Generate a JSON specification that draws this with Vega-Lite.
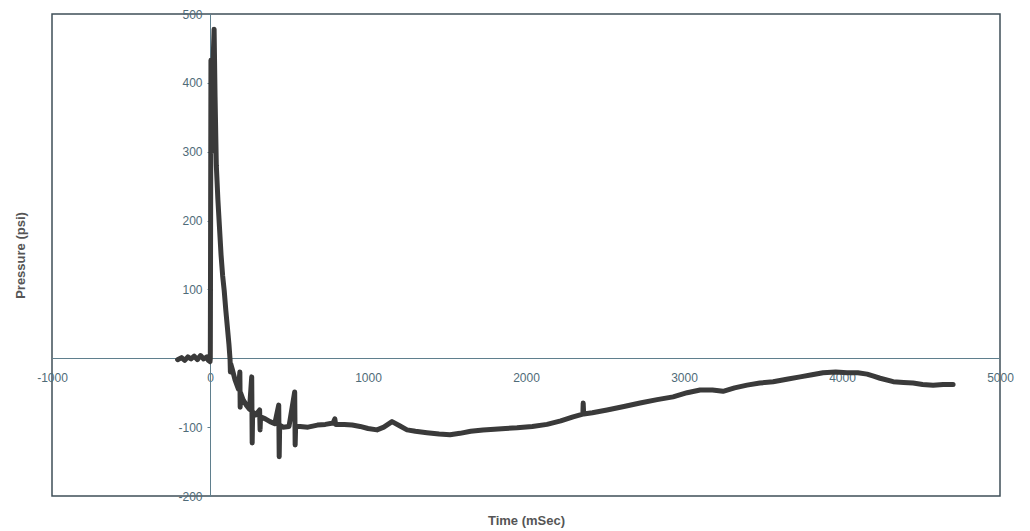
{
  "$schema": "https://vega.github.io/schema/vega-lite/v6.json",
  "width": 948,
  "height": 482,
  "autosize": {"type": "none"},
  "padding": {"left": 52, "top": 14, "right": 30, "bottom": 35},
  "background": "white",
  "config": {
    "view": {"stroke": "#3f4f58", "strokeWidth": 1.5},
    "font": "Liberation Sans"
  },
  "data": {
    "values": [
      {"t": -205, "p": -2}, {"t": -180, "p": 1}, {"t": -160, "p": -3}, {"t": -140, "p": 2},
      {"t": -120, "p": -1}, {"t": -100, "p": 3}, {"t": -80, "p": -2}, {"t": -60, "p": 4},
      {"t": -40, "p": -1}, {"t": -20, "p": 2}, {"t": -10, "p": -3}, {"t": 0, "p": -5},
      {"t": 2, "p": 0}, {"t": 3, "p": 100}, {"t": 6, "p": 433}, {"t": 10, "p": 300},
      {"t": 18, "p": 420}, {"t": 26, "p": 478}, {"t": 32, "p": 380}, {"t": 40, "p": 280},
      {"t": 50, "p": 230}, {"t": 60, "p": 190}, {"t": 70, "p": 150}, {"t": 80, "p": 120},
      {"t": 90, "p": 98}, {"t": 100, "p": 70}, {"t": 110, "p": 45}, {"t": 120, "p": 20},
      {"t": 127, "p": -2}, {"t": 129, "p": -20}, {"t": 131, "p": -8}, {"t": 140, "p": -15},
      {"t": 158, "p": -31}, {"t": 180, "p": -45}, {"t": 189, "p": -20}, {"t": 191, "p": -71},
      {"t": 193, "p": -50}, {"t": 209, "p": -60}, {"t": 230, "p": -68}, {"t": 250, "p": -74},
      {"t": 264, "p": -27}, {"t": 267, "p": -123}, {"t": 270, "p": -78}, {"t": 290, "p": -82},
      {"t": 314, "p": -75}, {"t": 317, "p": -104}, {"t": 320, "p": -85}, {"t": 350, "p": -88},
      {"t": 380, "p": -92}, {"t": 410, "p": -95}, {"t": 435, "p": -68}, {"t": 438, "p": -143},
      {"t": 441, "p": -97}, {"t": 462, "p": -100}, {"t": 500, "p": -99}, {"t": 536, "p": -49},
      {"t": 539, "p": -126}, {"t": 542, "p": -99}, {"t": 570, "p": -99}, {"t": 620, "p": -100},
      {"t": 680, "p": -97}, {"t": 730, "p": -96}, {"t": 779, "p": -94}, {"t": 790, "p": -88},
      {"t": 795, "p": -96}, {"t": 850, "p": -96}, {"t": 900, "p": -97}, {"t": 950, "p": -99},
      {"t": 1000, "p": -102}, {"t": 1057, "p": -104}, {"t": 1100, "p": -100}, {"t": 1152, "p": -92},
      {"t": 1200, "p": -98}, {"t": 1247, "p": -104}, {"t": 1300, "p": -106}, {"t": 1373, "p": -108},
      {"t": 1450, "p": -110}, {"t": 1519, "p": -111}, {"t": 1582, "p": -109}, {"t": 1650, "p": -106},
      {"t": 1728, "p": -104}, {"t": 1800, "p": -103}, {"t": 1870, "p": -102}, {"t": 1943, "p": -101},
      {"t": 2040, "p": -99}, {"t": 2133, "p": -96}, {"t": 2220, "p": -91}, {"t": 2298, "p": -85},
      {"t": 2360, "p": -81}, {"t": 2362, "p": -65}, {"t": 2365, "p": -81}, {"t": 2420, "p": -79},
      {"t": 2513, "p": -75}, {"t": 2620, "p": -70}, {"t": 2722, "p": -65}, {"t": 2830, "p": -60},
      {"t": 2931, "p": -56}, {"t": 3020, "p": -50}, {"t": 3102, "p": -46}, {"t": 3180, "p": -46},
      {"t": 3247, "p": -48}, {"t": 3320, "p": -43}, {"t": 3399, "p": -39}, {"t": 3480, "p": -36},
      {"t": 3564, "p": -34}, {"t": 3659, "p": -30}, {"t": 3735, "p": -27}, {"t": 3810, "p": -24},
      {"t": 3880, "p": -21}, {"t": 3960, "p": -20}, {"t": 4032, "p": -21}, {"t": 4100, "p": -21},
      {"t": 4159, "p": -23}, {"t": 4200, "p": -26}, {"t": 4241, "p": -29}, {"t": 4324, "p": -34},
      {"t": 4390, "p": -35}, {"t": 4450, "p": -36}, {"t": 4510, "p": -38}, {"t": 4577, "p": -39},
      {"t": 4640, "p": -38}, {"t": 4703, "p": -38}
    ]
  },
  "mark": {"type": "line", "color": "#3a3a3a", "strokeWidth": 5, "strokeJoin": "round", "strokeCap": "round"},
  "encoding": {
    "x": {
      "field": "t",
      "type": "quantitative",
      "scale": {"domain": [-1000, 5000], "nice": false, "zero": false},
      "axis": {
        "orient": "bottom",
        "offset": -138,
        "values": [-1000, 0, 1000, 2000, 3000, 4000, 5000],
        "labelExpr": "'' + datum.value",
        "grid": false,
        "ticks": false,
        "labelPadding": 14,
        "labelFlush": false,
        "labelOverlap": false,
        "labelFont": "Liberation Sans",
        "labelFontSize": 12,
        "labelColor": "#4f6b78",
        "domainColor": "#5f7f8d",
        "domainWidth": 1,
        "title": "Time (mSec)",
        "titleX": 474,
        "titleY": 162,
        "titleBaseline": "middle",
        "titleFont": "Liberation Sans",
        "titleFontSize": 13,
        "titleFontWeight": "bold",
        "titleColor": "#555555"
      }
    },
    "y": {
      "field": "p",
      "type": "quantitative",
      "scale": {"domain": [-200, 500], "nice": false, "zero": false},
      "axis": {
        "orient": "left",
        "offset": -158,
        "values": [500, 400, 300, 200, 100, -100, -200],
        "labelExpr": "'' + datum.value",
        "grid": false,
        "ticks": true,
        "tickSize": 3,
        "tickColor": "#5f7f8d",
        "labelPadding": 5,
        "labelFlush": false,
        "labelOverlap": false,
        "labelFont": "Liberation Sans",
        "labelFontSize": 12,
        "labelColor": "#4f6b78",
        "domainColor": "#5f7f8d",
        "domainWidth": 1,
        "title": "Pressure (psi)",
        "titleX": -190,
        "titleY": 241,
        "titleAngle": -90,
        "titleAlign": "center",
        "titleBaseline": "middle",
        "titleFont": "Liberation Sans",
        "titleFontSize": 13,
        "titleFontWeight": "bold",
        "titleColor": "#555555"
      }
    },
    "order": {"field": "t", "type": "quantitative"}
  }
}
